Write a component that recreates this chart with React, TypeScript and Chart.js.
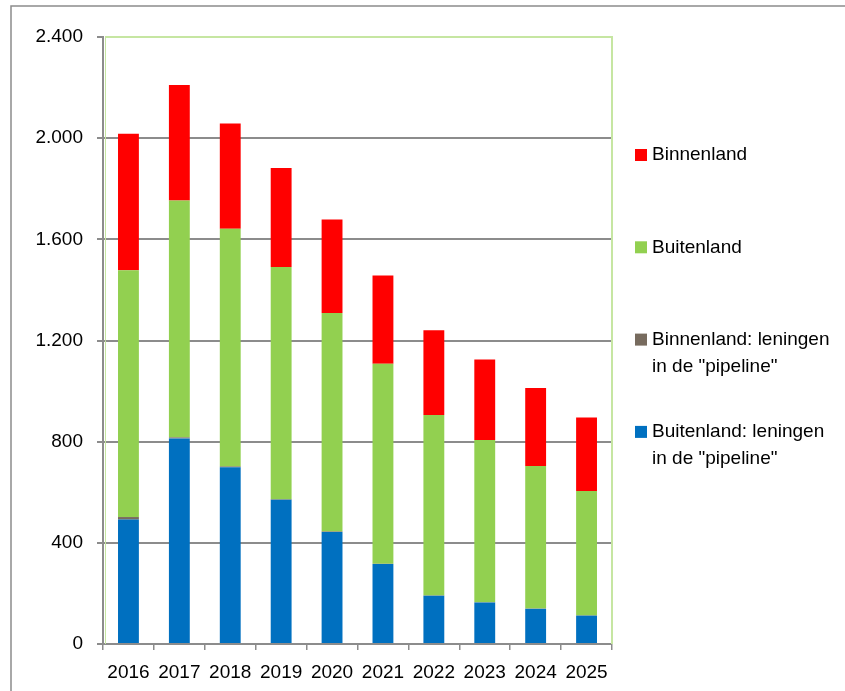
import React, { useEffect, useRef } from 'react';
import { Chart, registerables } from 'chart.js';

Chart.register(...registerables);

// ---- data ----
const years = ['2016', '2017', '2018', '2019', '2020', '2021', '2022', '2023', '2024', '2025'];
const buitenlandPipeline = [492, 813, 699, 570, 443, 316, 191, 164, 139, 112];
const binnenlandPipeline = [10, 4, 3, 2, 2, 1, 1, 1, 1, 1];
const buitenland = [976, 937, 940, 919, 864, 791, 713, 642, 564, 492];
const binnenland = [539, 456, 416, 391, 369, 349, 336, 318, 308, 291];
const yTicks = [0, 400, 800, 1200, 1600, 2000, 2400];
const seriesLabels = [
  'Buitenland: leningen in de "pipeline"',
  'Binnenland: leningen in de "pipeline"',
  'Buitenland',
  'Binnenland',
];
const legendLines: string[][] = [
  ['Binnenland'],
  ['Buitenland'],
  ['Binnenland: leningen', 'in de "pipeline"'],
  ['Buitenland: leningen', 'in de "pipeline"'],
];
const colors = ['#0070c0', '#776b5e', '#92d050', '#ff0000'];

const FONT = '"Liberation Sans", Arial, sans-serif';
const GRAY = '#8c8c8c';

const fmt = (v: number) => String(v).replace(/\B(?=(\d{3})+(?!\d))/g, '.');

const framePlugin = {
  id: 'frame',
  beforeDraw(chart: any) {
    const ctx = chart.ctx;
    ctx.save();
    ctx.strokeStyle = GRAY;
    ctx.lineWidth = 1.5;
    ctx.beginPath();
    ctx.moveTo(11, chart.height);
    ctx.lineTo(11, 6);
    ctx.lineTo(chart.width, 6);
    ctx.stroke();
    ctx.restore();
  },
  beforeDatasetsDraw(chart: any) {
    const { ctx, chartArea } = chart;
    ctx.save();
    ctx.strokeStyle = '#c6e6a2';
    ctx.lineWidth = 2;
    ctx.beginPath();
    ctx.moveTo(chartArea.left + 2, chartArea.top);
    ctx.lineTo(chartArea.right, chartArea.top);
    ctx.lineTo(chartArea.right, chartArea.bottom);
    ctx.stroke();
    ctx.lineWidth = 1;
    ctx.beginPath();
    ctx.moveTo(chartArea.left + 2.5, chartArea.top);
    ctx.lineTo(chartArea.left + 2.5, chartArea.bottom);
    ctx.stroke();
    ctx.restore();
  },
  afterDraw(chart: any) {
    const ctx = chart.ctx;
    const x = 635;
    const top = 155;
    const step = 92.3;
    const lh = 27;
    ctx.save();
    ctx.font = `19px ${FONT}`;
    ctx.textBaseline = 'middle';
    ctx.textAlign = 'left';
    const n = chart.data.datasets.length;
    for (let i = 0; i < n; i++) {
      const ds = chart.data.datasets[n - 1 - i];
      const y = top + i * step;
      ctx.fillStyle = ds.backgroundColor;
      ctx.fillRect(x, y - 6, 12, 12);
      ctx.fillStyle = '#000';
      legendLines[i].forEach((t, j) => ctx.fillText(t, x + 17, y + j * lh));
    }
    ctx.restore();
  },
};

export default function App() {
  const ref = useRef<HTMLCanvasElement>(null);
  useEffect(() => {
    if (!ref.current) return;
    const datasets = [buitenlandPipeline, binnenlandPipeline, buitenland, binnenland].map((d, i) => ({
      label: seriesLabels[i],
      data: d,
      backgroundColor: colors[i],
      borderWidth: 0,
      barPercentage: 0.41,
      categoryPercentage: 1,
    }));
    const chart = new Chart(ref.current, {
      type: 'bar',
      data: { labels: years, datasets },
      plugins: [framePlugin],
      options: {
        responsive: false,
        animation: false,
        layout: { padding: { top: 37, right: 233, left: 0, bottom: 0 } },
        plugins: { legend: { display: false }, tooltip: { enabled: false }, title: { display: false } },
        scales: {
          x: {
            stacked: true,
            grid: { display: true, drawOnChartArea: false, drawTicks: true, tickLength: 6, color: GRAY, lineWidth: 1.5, offset: true },
            border: { display: true, color: GRAY, width: 2 },
            ticks: { color: '#000', font: { family: FONT, size: 19 }, padding: 11, maxRotation: 0 },
            afterFit: (s: any) => { s.height = 47; },
          },
          y: {
            stacked: true,
            min: 0,
            max: 2400,
            afterBuildTicks: (s: any) => { s.ticks = yTicks.map((v) => ({ value: v })); },
            grid: {
              color: (c: any) => (c.tick && c.tick.value === 2400 ? 'rgba(0,0,0,0)' : GRAY),
              tickColor: GRAY,
              lineWidth: 2,
              tickLength: 6,
            },
            border: { display: true, color: GRAY, width: 2 },
            ticks: {
              color: '#000',
              font: { family: FONT, size: 19 },
              padding: 14,
              callback: (v: any) => fmt(Number(v)),
            },
            afterFit: (s: any) => { s.width = 103; },
          },
        },
      },
    });
    return () => chart.destroy();
  }, []);
  return (
    <div style={{ position: 'fixed', left: 0, top: 0, width: 845, height: 691, background: '#fff' }}>
      <canvas ref={ref} width={845} height={691} style={{ display: 'block' }} />
    </div>
  );
}
